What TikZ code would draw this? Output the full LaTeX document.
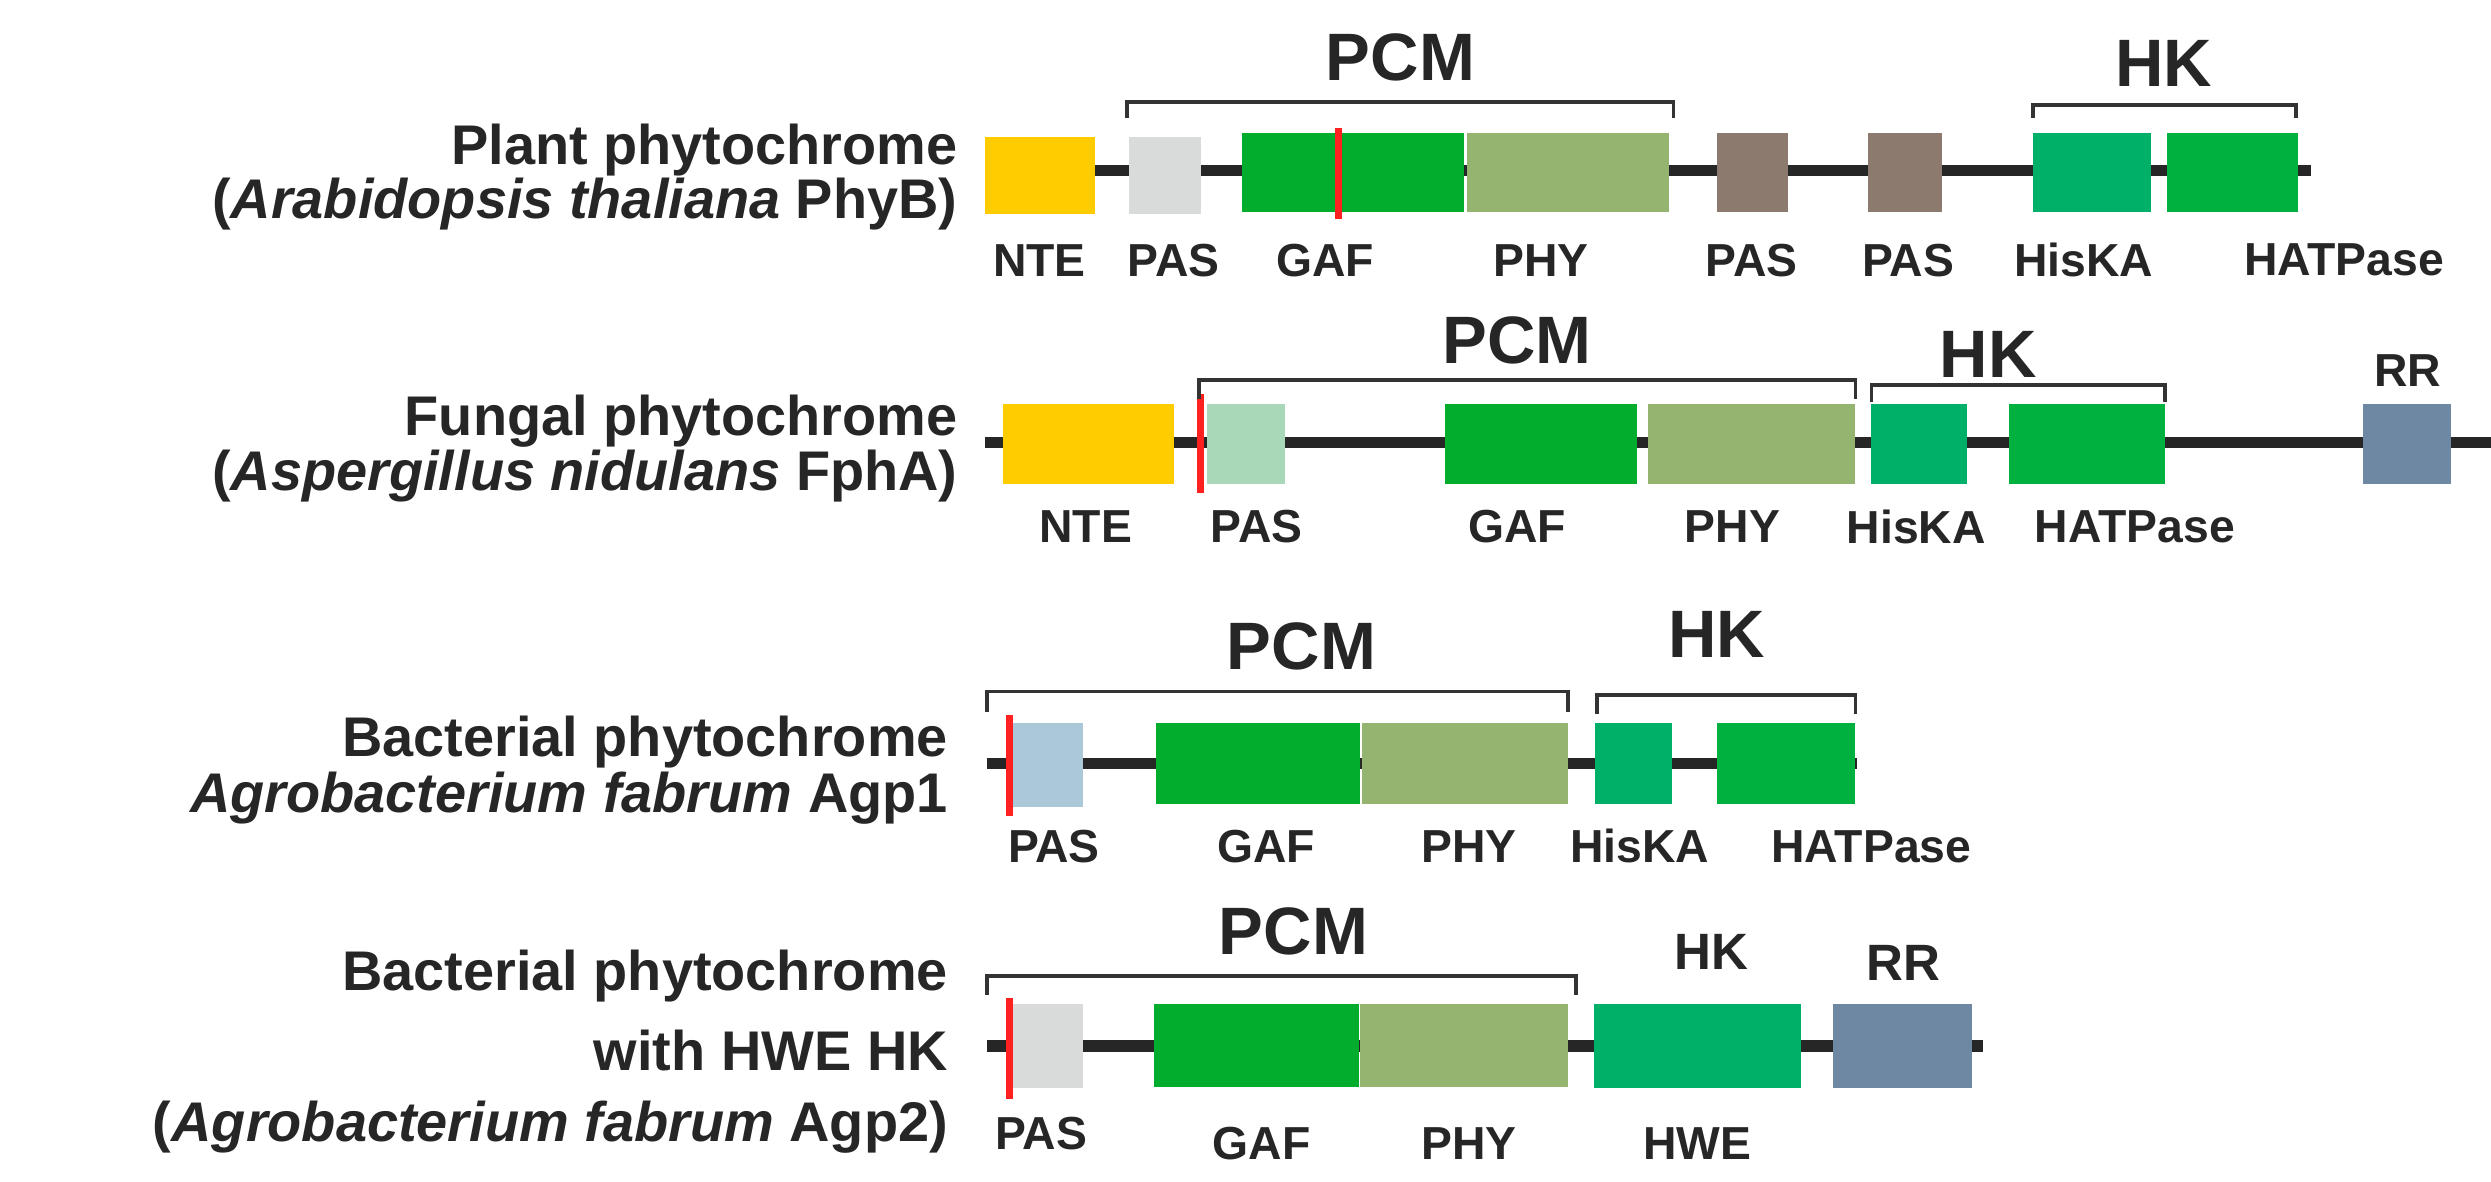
\documentclass[tikz,border=0pt]{standalone}
\usepackage{fontspec}
\setmainfont{Liberation Sans}
\begin{document}
\definecolor{cYel}{HTML}{FFCC00}
\definecolor{cGry}{HTML}{D9DBDA}
\definecolor{cGAF}{HTML}{02AC2C}
\definecolor{cPHY}{HTML}{94B46F}
\definecolor{cBrn}{HTML}{8C7A6E}
\definecolor{cHis}{HTML}{00AF68}
\definecolor{cHAT}{HTML}{00B140}
\definecolor{cLPA}{HTML}{A9D8B8}
\definecolor{cBPA}{HTML}{ABC8D8}
\definecolor{cRR}{HTML}{6E88A3}
\definecolor{cRed}{HTML}{FF2020}
\newcommand\dom[6]{\node[dom,fill=#2,minimum width={(#4-#3)*0.5pt},minimum height={#6*0.5pt}] (#1) at ({(#3+#4)/2},#5) {};}
\begin{tikzpicture}[x=0.5pt,y=-0.5pt,
  dom/.style={draw=none,inner sep=0pt,outer sep=0pt,rectangle},
  bb/.style={line width=3.5pt,draw={black!85}},
  br/.style={line width=1.2pt,draw={black!80}},
  red/.style={line width=2.2pt,draw=cRed},
  lab/.style={font=\bfseries\fontsize{14.5}{16}\selectfont,text=black!85,inner sep=0pt},
  big/.style={font=\bfseries\fontsize{21}{24}\selectfont,text=black!85,inner sep=0pt},
  ttl/.style={font=\bfseries\fontsize{17.5}{19}\selectfont,text=black!85,inner sep=0pt,anchor=east}]
\useasboundingbox (0,0) rectangle (1560,740);
% ---------- Row 1
\coordinate (l1a) at (685,107); \coordinate (l1b) at (1447,107);
\draw[bb] (l1a) -- (l1b);
\dom{a1}{cYel}{617}{686}{110}{48}
\dom{a2}{cGry}{707}{752}{110}{48}
\dom{a3}{cGAF}{778}{917}{108}{50}
\dom{a4}{cPHY}{919}{1045}{108}{50}
\dom{a5}{cBrn}{1075}{1120}{108}{50}
\dom{a6}{cBrn}{1170}{1216}{108}{50}
\dom{a7}{cHis}{1273}{1347}{108}{50}
\dom{a8}{cHAT}{1357}{1439}{108}{50}
\coordinate (r1a) at (838,80); \coordinate (r1b) at (838,137);
\draw[red] (r1a) -- (r1b);
\draw[br] (706,74) -- (706,64) -- (1048,64) -- (1048,74);
\draw[br] (1273,74) -- (1273,66) -- (1438,66) -- (1438,74);
\node[big] (p1) at (877,36) {PCM};
\node[big] (h1) at (1355,40) {HK};
\foreach \t/\x in {NTE/651,PAS/735,GAF/830,PHY/965,PAS/1097,PAS/1195,HisKA/1305,HATPase/1468}
  \node[lab] at (\x,163) {\t};
\node[ttl] (t1a) at (600,94) {Plant phytochrome};
\node[ttl] (t1b) at (600,128) {(\textit{Arabidopsis thaliana} PhyB)};
% ---------- Row 2
\draw[bb] (617,277) -- (1560,277);
\dom{b1}{cYel}{628}{735}{278}{50}
\dom{b2}{cLPA}{756}{805}{278}{50}
\dom{b3}{cGAF}{905}{1025}{278}{50}
\dom{b4}{cPHY}{1032}{1162}{278}{50}
\dom{b5}{cHis}{1172}{1232}{278}{50}
\dom{b6}{cHAT}{1258}{1356}{278}{50}
\dom{b7}{cRR}{1480}{1535}{278}{50}
\draw[red] (752,247) -- (752,309);
\draw[br] (751,250) -- (751,238) -- (1162,238) -- (1162,250);
\draw[br] (1172,252) -- (1172,241) -- (1356,241) -- (1356,252);
\node[big] (p2) at (950,213) {PCM};
\node[big] (h2) at (1245,222) {HK};
\node[lab] (rr2) at (1508,232) {RR};
\foreach \t/\x in {NTE/680,PAS/787,GAF/950,PHY/1085,HisKA/1200,HATPase/1337}
  \node[lab] at (\x,330) {\t};
\node[ttl] (t2a) at (600,264) {Fungal phytochrome};
\node[ttl] (t2b) at (600,298) {(\textit{Aspergillus nidulans} FphA)};
% ---------- Row 3
\draw[bb] (618,478) -- (1163,478);
\dom{c1}{cBPA}{632}{678}{479}{53}
\dom{c2}{cGAF}{724}{852}{478}{51}
\dom{c3}{cPHY}{853}{982}{478}{51}
\dom{c4}{cHis}{999}{1047}{478}{51}
\dom{c5}{cHAT}{1075}{1162}{478}{51}
\draw[red] (632,448) -- (632,511);
\draw[br] (618,446) -- (618,433) -- (982,433) -- (982,446);
\draw[br] (1000,447) -- (1000,435) -- (1162,435) -- (1162,447);
\node[big] (p3) at (815,405) {PCM};
\node[big] (h3) at (1075,397) {HK};
\foreach \t/\x in {PAS/660,GAF/793,PHY/920,HisKA/1027,HATPase/1172}
  \node[lab] at (\x,530) {\t};
\node[ttl] (t3a) at (594,465) {Bacterial phytochrome};
\node[ttl] (t3b) at (594,500) {\textit{Agrobacterium fabrum} Agp1};
% ---------- Row 4
\draw[bb] (618,655) -- (1242,655);
\dom{d1}{cGry}{632}{678}{655}{53}
\dom{d2}{cGAF}{723}{851}{655}{52}
\dom{d3}{cPHY}{852}{982}{655}{52}
\dom{d4}{cHis}{998}{1128}{655}{53}
\dom{d5}{cRR}{1148}{1235}{655}{53}
\draw[red] (632,625) -- (632,688);
\draw[br] (618,623) -- (618,611) -- (987,611) -- (987,623);
\node[big] (p4) at (810,583) {PCM};
\node[lab,font=\bfseries\fontsize{16}{18}\selectfont] (h4) at (1072,596) {HK};
\node[lab,font=\bfseries\fontsize{16}{18}\selectfont] (rr4) at (1192,603) {RR};
\foreach \t/\x/\y in {PAS/652/710,GAF/790/716,PHY/920/716,HWE/1063/716}
  \node[lab] at (\x,\y) {\t};
\node[ttl] (t4a) at (594,611) {Bacterial phytochrome};
\node[ttl] (t4b) at (594,658) {with HWE HK};
\node[ttl] (t4c) at (594,706) {(\textit{Agrobacterium fabrum} Agp2)};
\end{tikzpicture}
\end{document}
